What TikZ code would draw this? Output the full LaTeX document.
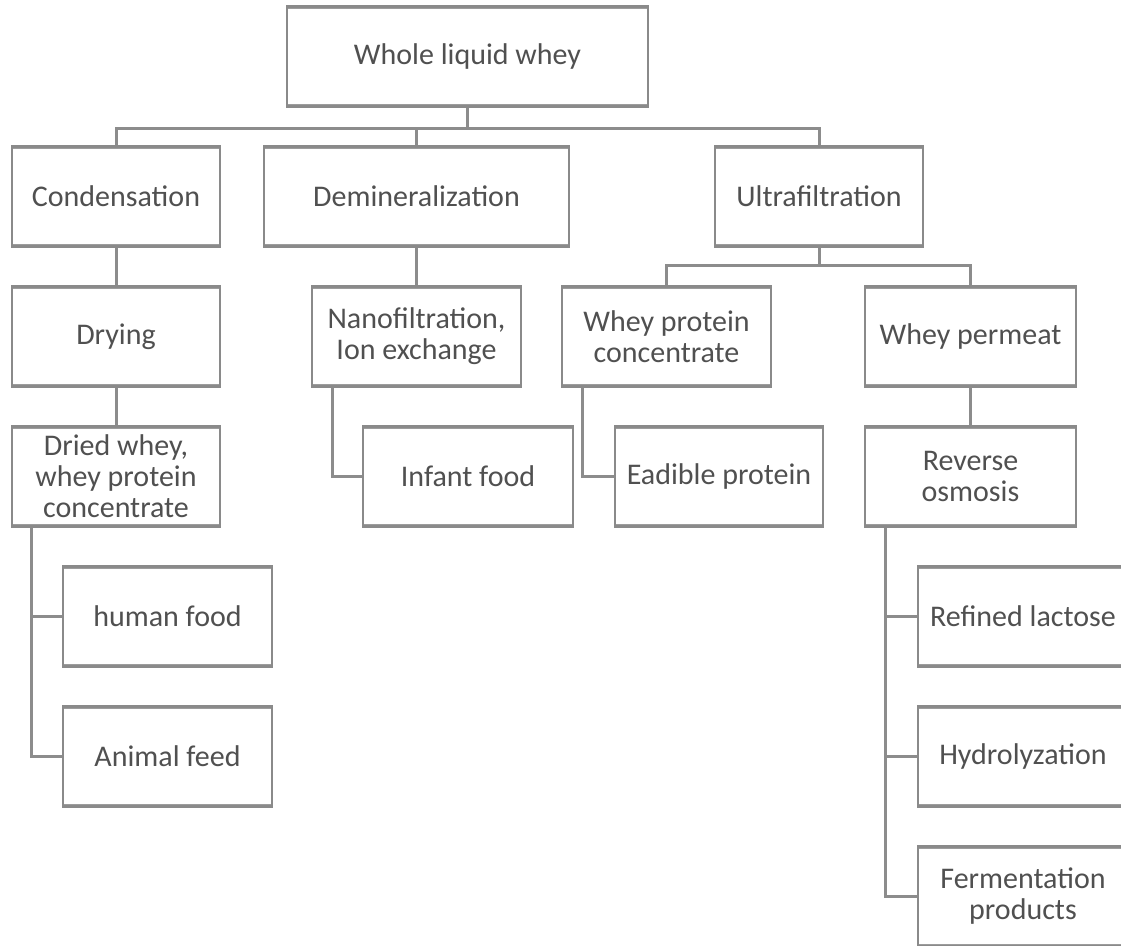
\documentclass[tikz,border=0pt]{standalone}
\usepackage{fontspec}
\setmainfont{Carlito}
\definecolor{boxgray}{RGB}{138,138,138}
\definecolor{textgray}{RGB}{80,80,80}
\definecolor{linegray}{RGB}{140,140,140}

\begin{document}
\begin{tikzpicture}[x=1pt, y=1pt, node distance=140pt,
    box/.style={rectangle, draw=boxgray, line width=2.5pt, fill=white, minimum width=208pt, minimum height=100pt, inner sep=2pt, align=center, text=textgray, font=\fontsize{30}{31}\selectfont,
      path picture={\draw [boxgray!85, line width=5pt] (path picture bounding box.north west) -- (path picture bounding box.north east) (path picture bounding box.south west) -- (path picture bounding box.south east);}},
    link/.style={draw=linegray, line width=3pt}]

\useasboundingbox [fill=white] (0,0) rectangle (1121,-945);

\node [box, minimum width=361pt] (whey) at (467.5,-56.5) {Whole liquid whey};
\node [box] (cond) at (116,-196.5) {Condensation};
\node [box, minimum width=305pt] (demin) at (416.5,-196.5) {Demineralization};
\node [box] (ultra) at (819,-196.5) {Ultrafiltration};
\node [box, below of=cond] (drying) {Drying};
\node [box, minimum width=209pt, below of=demin] (nano) {Nanofiltration,\\Ion exchange};
\node [box, minimum width=209pt] (wpc) at (666.5,-336.5) {Whey protein\\concentrate};
\node [box, minimum width=211pt] (perm) at (970.5,-336.5) {Whey permeat};
\node [box, below of=drying] (dried) {Dried whey,\\whey protein\\concentrate};
\node [box, minimum width=210pt] (infant) at (468,-476.5) {Infant food};
\node [box] (edible) at (719,-476.5) {Eadible protein};
\node [box, minimum width=211pt, below of=perm] (osmosis) {Reverse\\osmosis};
\node [box, minimum width=209pt] (human) at (167.5,-616.5) {human food};
\node [box, minimum width=209pt, below of=human] (feed) {Animal feed};
\node [box, minimum width=210pt] (lactose) at (1023,-616.5) {Refined lactose};
\node [box, minimum width=210pt, below of=lactose] (hydro) {Hydrolyzation};
\node [box, minimum width=210pt, below of=hydro] (ferm) {Fermentation\\products};

\coordinate (bus) at (0,-128);
\coordinate (ubus) at (0,-265);

\draw [link] (whey.south) -- (whey.south |- bus);
\draw [link] (cond.north) |- (bus -| whey.south) -| (ultra.north);
\draw [link] (demin.north) -- (demin.north |- bus);
\draw [link] (cond) -- (drying);
\draw [link] (drying) -- (dried);
\draw [link] (demin) -- (nano);
\draw [link] (ultra.south) -- (ultra.south |- ubus);
\draw [link] (wpc.north) |- (ubus -| ultra.south) -| (perm.north);
\draw [link] (perm) -- (osmosis);
\draw [link] ([xshift=22pt]nano.south west) |- (infant.west);
\draw [link] ([xshift=22pt]wpc.south west) |- (edible.west);
\draw [link] ([xshift=21pt]dried.south west) |- (human.west);
\draw [link] ([xshift=21pt]dried.south west) |- (feed.west);
\draw [link] ([xshift=22pt]osmosis.south west) |- (lactose.west);
\draw [link] ([xshift=22pt]osmosis.south west) |- (hydro.west);
\draw [link] ([xshift=22pt]osmosis.south west) |- (ferm.west);

\end{tikzpicture}
\end{document}
